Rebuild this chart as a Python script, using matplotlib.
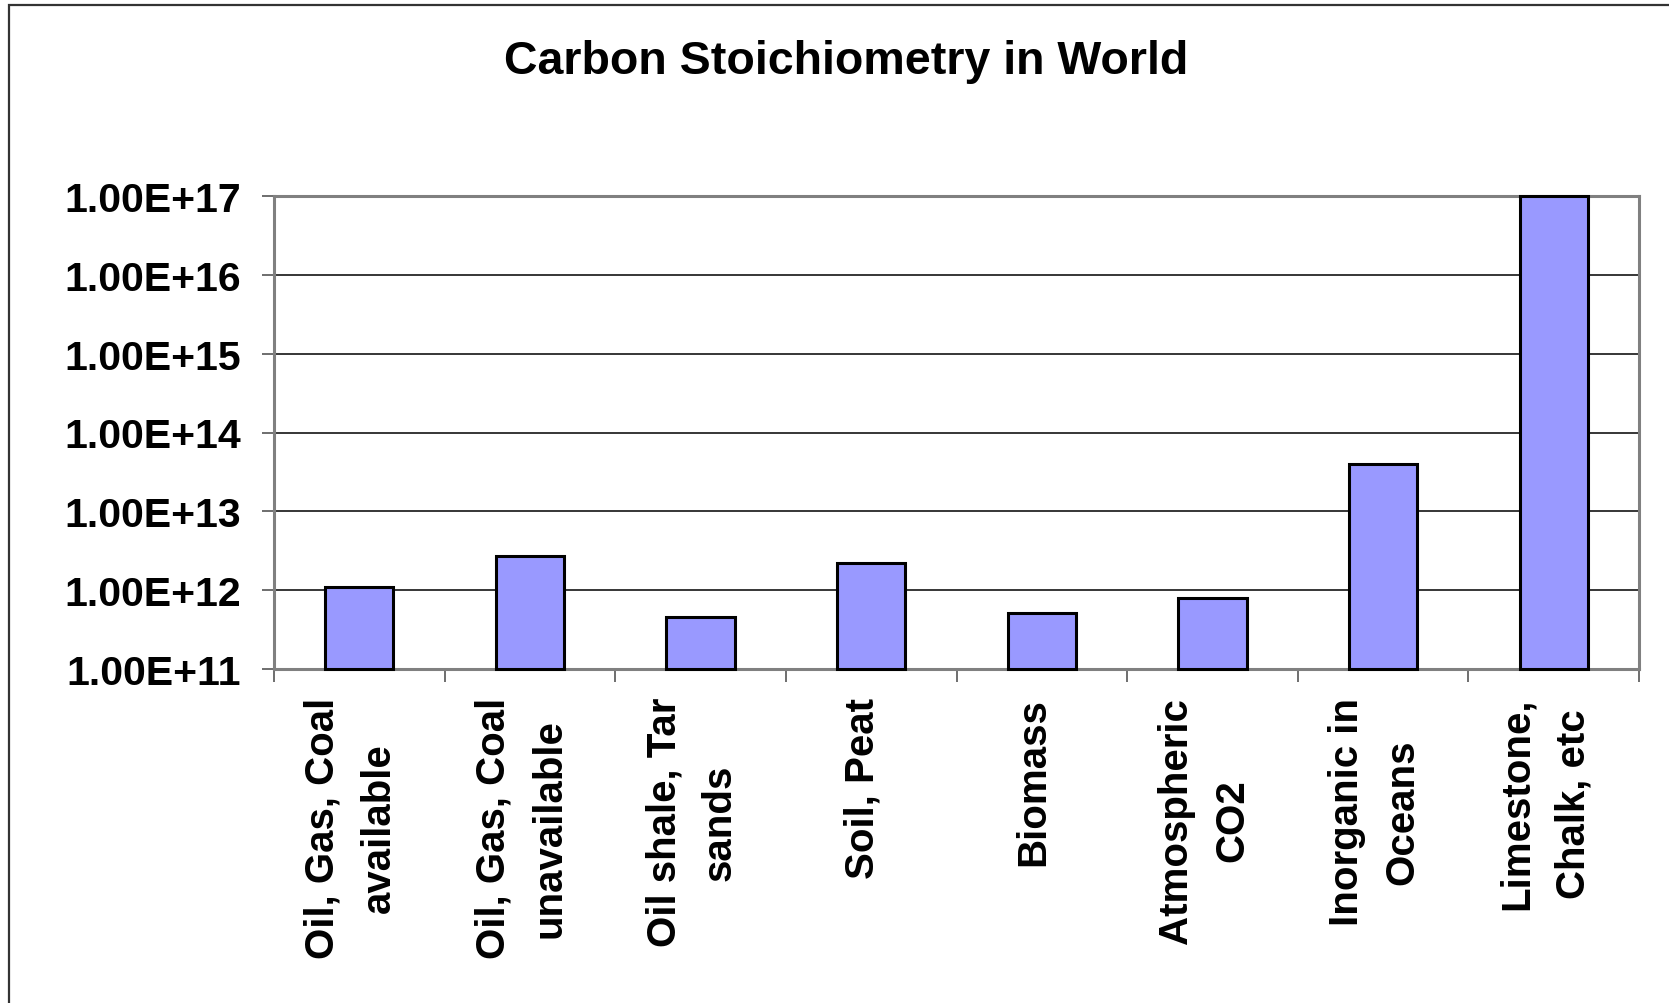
import matplotlib.pyplot as plt
import numpy as np
from matplotlib.patches import Rectangle
from matplotlib.ticker import FixedLocator, FuncFormatter, NullFormatter

plt.rcParams['font.family'] = ['Liberation Sans', 'DejaVu Sans']

categories = [
    "Oil, Gas, Coal\navailable",
    "Oil, Gas, Coal\nunavailable",
    "Oil shale, Tar\nsands",
    "Soil, Peat",
    "Biomass",
    "Atmospheric\nCO2",
    "Inorganic in\nOceans",
    "Limestone,\nChalk, etc",
]
carbon = [1.1e12, 2.7e12, 4.6e11, 2.2e12, 5.2e11, 8.0e11, 4.0e13, 1.0e17]
y_ticks = [1e11, 1e12, 1e13, 1e14, 1e15, 1e16, 1e17]
base = y_ticks[0]

fig = plt.figure(figsize=(16.69, 10.04), dpi=100)
ax = fig.add_axes([274 / 1669, 1 - 670 / 1004, 1365 / 1669, 473 / 1004])

x = np.arange(len(categories))
heights = [v - base for v in carbon]
ax.bar(x, heights, width=0.4, bottom=base, color='#9999ff', edgecolor='black',
       linewidth=2.2, zorder=3, clip_on=False)

ax.set_yscale('log')
ax.set_ylim(1e11, 1e17)
ax.set_xlim(-0.5, len(categories) - 0.5)

ax.yaxis.set_major_locator(FixedLocator(y_ticks))
ax.yaxis.set_minor_locator(FixedLocator([]))
ax.yaxis.set_major_formatter(FuncFormatter(lambda v, p: f"{v:.2E}"))
ax.tick_params(axis='y', which='major', length=9, width=1.2, color='#555555',
               pad=15, labelsize=29.5)
for lab in ax.get_yticklabels():
    lab.set_fontweight('bold')

# labels sit a little left of the bar centres in the original
ax.set_xticks(x - 0.05)
ax.set_xticklabels(categories, rotation=90, fontsize=29, fontweight='bold',
                   ha='center', va='top', multialignment='center',
                   linespacing=1.6)
ax.set_xticks(np.arange(-0.5, len(categories)), minor=True)
ax.xaxis.set_minor_formatter(NullFormatter())
ax.tick_params(axis='x', which='major', length=0, pad=20)
ax.tick_params(axis='x', which='minor', length=9, width=1.2, color='#555555')

ax.grid(axis='y', color='black', linewidth=1.1, zorder=0)
ax.set_axisbelow(True)
for s in ax.spines.values():
    s.set_color('#808080')
    s.set_linewidth(2.2)

fig.text(846 / 1669, 1 - 62 / 1004, "Carbon Stoichiometry in World",
         fontsize=33.5, fontweight='bold', ha='center', va='center')

# outer chart frame (only left and top edges fall inside the image)
fig.add_artist(Rectangle((9 / 1669, -0.1), 1.2, 1 - 6 / 1004 + 0.1,
                         transform=fig.transFigure, fill=False,
                         edgecolor='#333333', linewidth=1.6, clip_on=False))

fig.savefig("out.png", dpi=100)
